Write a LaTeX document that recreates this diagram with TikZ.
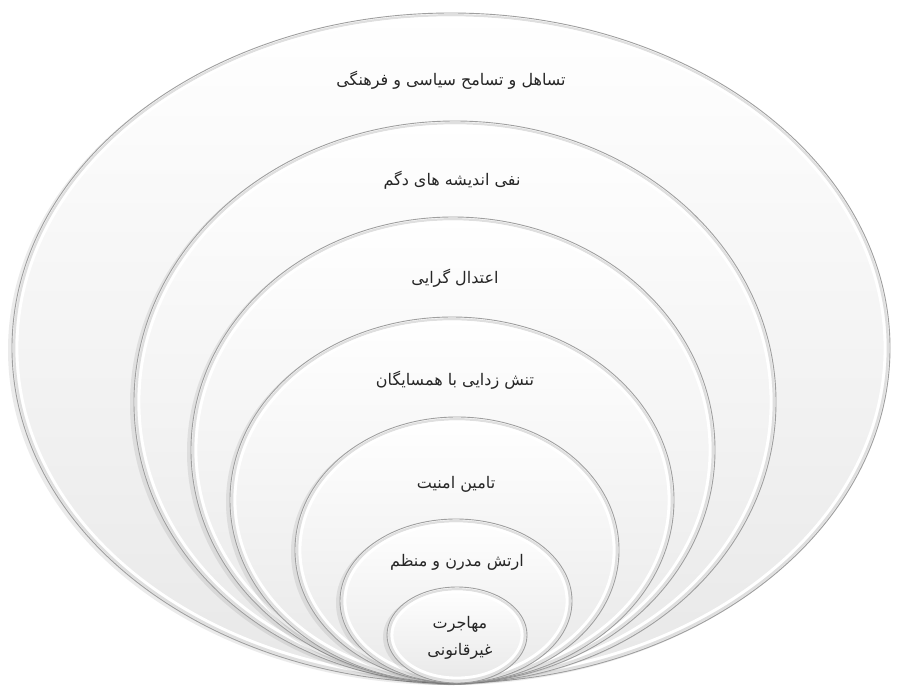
\documentclass[tikz,border=0pt]{standalone}
\usepackage{fontspec}
\newfontfamily\fa[Script=Arabic]{DejaVu Sans}
\TeXXeTstate=1
\begin{document}
\begin{tikzpicture}[x=1pt,y=-1pt,
  lbl/.style={font=\fa\fontsize{16}{19}\selectfont, text=black!85, inner sep=0pt, align=center},
  rim/.style={draw=gray!75, line width=0.9pt},
  shine/.style={draw=white, line width=2.8pt},
  shadowband/.style={draw=gray!25, line width=2.2pt},
  body/.style={top color=white, bottom color=gray!18}]
\useasboundingbox (0,0) rectangle (897,686);
\fill[white] (0,0) rectangle (897,686);
\newcommand{\ring}[4]{%
  \fill[black, opacity=0.08] (#1-3,#2+2) ellipse [x radius=#3+1, y radius=#4];
  \shade[body] (#1,#2) ellipse [x radius=#3, y radius=#4];
  \draw[shadowband] (#1,#2) ellipse [x radius=#3-2.2, y radius=#4-2.2];
  \draw[shine] (#1,#2) ellipse [x radius=#3-5, y radius=#4-5];
  \draw[rim] (#1,#2) ellipse [x radius=#3, y radius=#4];
}
\ring{451}{348}{439}{335}
\ring{455}{402}{321}{281}
\ring{453}{450}{262}{233}
\ring{452}{500}{222}{183}
\ring{457}{550}{162}{133}
\ring{456}{601}{116}{82}
\ring{457}{635}{70}{48}
\node[lbl] (t1) at (451,80) {\beginR تساهل و تسامح سیاسی و فرهنگی\endR};
\node[lbl] (t2) at (452,180) {\beginR نفی اندیشه های دگم\endR};
\node[lbl] (t3) at (455,278) {\beginR اعتدال گرایی\endR};
\node[lbl] (t4) at (455,380) {\beginR تنش زدایی با همسایگان\endR};
\node[lbl] (t5) at (456,484) {\beginR تامین امنیت\endR};
\node[lbl] (t6) at (457,562) {\beginR ارتش مدرن و منظم\endR};
\node[lbl] (t7a) at (460,624) {\beginR مهاجرت\endR};
\node[lbl] (t7b) at (460,651) {\beginR غیرقانونی\endR};
\end{tikzpicture}
\end{document}
